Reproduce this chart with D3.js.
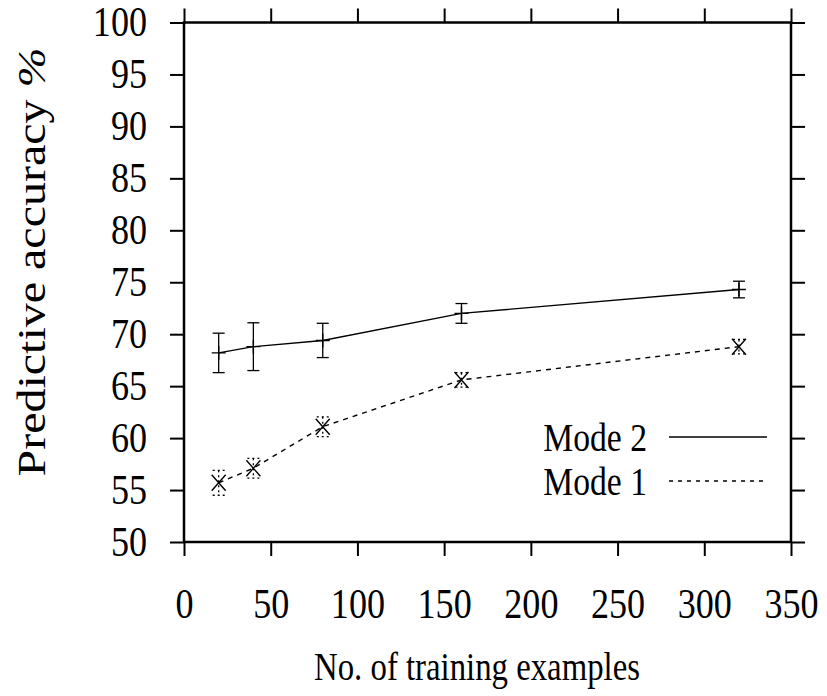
<!DOCTYPE html>
<html>
<head>
<meta charset="utf-8">
<script src="https://cdn.jsdelivr.net/npm/d3@7"></script>
<style>
  body { margin: 0; background: #fff; }
  text { font-family: 'Liberation Serif', 'Times New Roman', serif; fill: #000; }
</style>
</head>
<body>
<div id="chart"></div>
<script>
// data
const examples = [20, 40, 80, 160, 320]
const mode2 = [68.2, 68.8, 69.4, 72.0, 74.3]
const mode2Err = [1.9, 2.3, 1.65, 0.95, 0.8]
const mode1 = [55.7, 57.1, 61.1, 65.6, 68.8]
const mode1Err = [1.2, 0.95, 0.95, 0.7, 0.7]
const xTicks = [0, 50, 100, 150, 200, 250, 300, 350]
const yTicks = [50, 55, 60, 65, 70, 75, 80, 85, 90, 95, 100]

// size
const margin = { left: 184, right: 36, top: 22.5, bottom: 154 }
const width = 827 - margin.left - margin.right
const height = 696 - margin.top - margin.bottom
const squeeze = 0.82
const tickSqueeze = 0.86

// scale
const x = d3.scaleLinear().domain([0, 350]).range([0, width])
const y = d3.scaleLinear().domain([50, 100]).range([height, 0])

const svg = d3
  .select('#chart')
  .append('svg')
  .attr('width', 827)
  .attr('height', 696)

const plot = svg
  .append('g')
  .attr('transform', `translate(${margin.left}, ${margin.top})`)

// axes, ticks pointing outward on all four sides
const tickLen = 14

const left = plot
  .append('g')
  .call(d3.axisLeft(y).tickValues(yTicks).tickSize(tickLen))
left
  .selectAll('text')
  .attr('font-size', '42px')
  .attr('x', -37 / tickSqueeze)
  .attr('transform', `scale(${tickSqueeze},1)`)

const bottom = plot
  .append('g')
  .attr('transform', `translate(0, ${height})`)
  .call(d3.axisBottom(x).tickValues(xTicks).tickSize(tickLen))
bottom
  .selectAll('text')
  .attr('font-size', '42px')
  .attr('y', 46)
  .attr('transform', `scale(${tickSqueeze},1)`)
  .attr('x', 0)

plot
  .append('g')
  .attr('transform', `translate(${width}, 0)`)
  .call(d3.axisRight(y).tickValues(yTicks).tickSize(tickLen).tickFormat(''))

plot
  .append('g')
  .call(d3.axisTop(x).tickValues(xTicks).tickSize(tickLen).tickFormat(''))

plot.selectAll('.domain').remove()
plot
  .selectAll('.tick line')
  .attr('stroke', '#000')
  .attr('stroke-width', 2)

// frame
plot
  .append('rect')
  .attr('width', width)
  .attr('height', height)
  .attr('fill', 'none')
  .attr('stroke', '#000')
  .attr('stroke-width', 2.5)

// error bars
function errorBars(vals, errs, dash) {
  const g = plot
    .append('g')
    .attr('stroke', '#000')
    .attr('stroke-width', 1.3)
    .attr('stroke-dasharray', dash)
  examples.forEach((e, i) => {
    const cx = x(e)
    const top = y(vals[i] + errs[i])
    const bot = y(vals[i] - errs[i])
    g.append('line').attr('x1', cx).attr('x2', cx).attr('y1', top).attr('y2', bot)
    g.append('line').attr('x1', cx - 6).attr('x2', cx + 6).attr('y1', top).attr('y2', top)
    g.append('line').attr('x1', cx - 6).attr('x2', cx + 6).attr('y1', bot).attr('y2', bot)
  })
}

errorBars(mode2, mode2Err, null)
errorBars(mode1, mode1Err, '2,3')

// lines
const line = d3
  .line()
  .x((d, i) => x(examples[i]))
  .y(d => y(d))

plot
  .append('path')
  .attr('d', line(mode2))
  .attr('fill', 'none')
  .attr('stroke', '#000')
  .attr('stroke-width', 1.4)

plot
  .append('path')
  .attr('d', line(mode1))
  .attr('fill', 'none')
  .attr('stroke', '#000')
  .attr('stroke-width', 1.4)
  .attr('stroke-dasharray', '5,5')

// markers: + for mode 2, x for mode 1
mode2.forEach((v, i) => {
  const cx = x(examples[i])
  const cy = y(v)
  plot
    .append('path')
    .attr('d', `M${cx - 7},${cy}H${cx + 7}M${cx},${cy - 7}V${cy + 7}`)
    .attr('stroke', '#000')
    .attr('stroke-width', 1.4)
})
mode1.forEach((v, i) => {
  const cx = x(examples[i])
  const cy = y(v)
  plot
    .append('path')
    .attr('d', `M${cx - 7},${cy - 8}L${cx + 7},${cy + 8}M${cx - 7},${cy + 8}L${cx + 7},${cy - 8}`)
    .attr('stroke', '#000')
    .attr('stroke-width', 1.4)
})

// legend
const legendRows = [
  { label: 'Mode 2', dash: null, y: 437 },
  { label: 'Mode 1', dash: '4,5', y: 481 },
]
legendRows.forEach(r => {
  svg
    .append('text')
    .attr('font-size', '41px')
    .attr('text-anchor', 'end')
    .attr('transform', `translate(647, ${r.y + 14}) scale(${squeeze},1)`)
    .text(r.label)
  svg
    .append('line')
    .attr('x1', 669)
    .attr('x2', 767)
    .attr('y1', r.y)
    .attr('y2', r.y)
    .attr('stroke', '#000')
    .attr('stroke-width', 1.3)
    .attr('stroke-dasharray', r.dash)
})

// x-axis label
svg
  .append('text')
  .attr('font-size', '40px')
  .attr('text-anchor', 'middle')
  .attr('transform', `translate(477, 680) scale(${squeeze},1)`)
  .text('No. of training examples')

// y-axis label
const yLabel = svg
  .append('text')
  .attr('font-size', '48px')
  .attr('text-anchor', 'middle')
  .attr('transform', `translate(45, 262) rotate(-90) scale(1,${squeeze})`)
yLabel.append('tspan').text('Predictive accuracy ')
yLabel.append('tspan').attr('font-style', 'italic').text('%')
</script>
</body>
</html>
